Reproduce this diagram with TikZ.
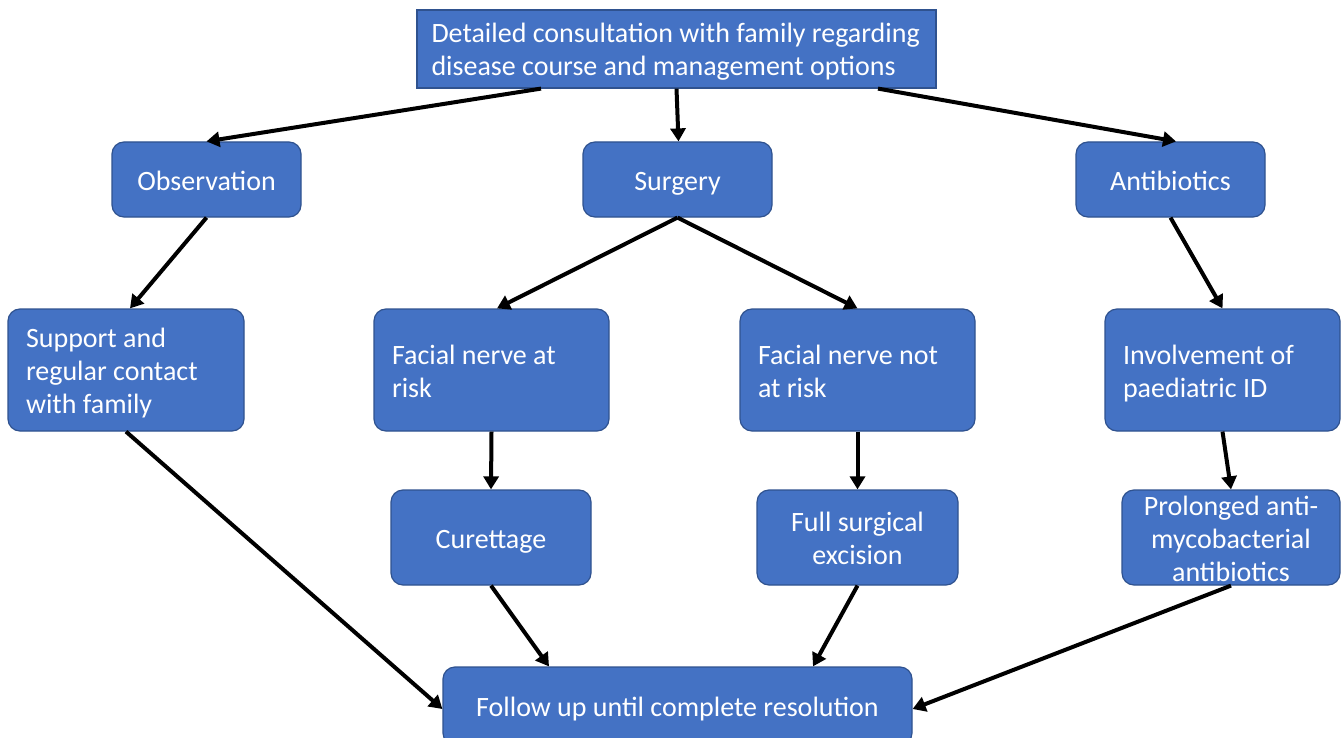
\documentclass[tikz,border=0pt]{standalone}
\usepackage{fontspec}
\setmainfont{Carlito}
\usetikzlibrary{arrows.meta}
\definecolor{boxfill}{HTML}{4472C4}
\definecolor{boxline}{HTML}{2F528F}
\tikzset{
	stepbox/.style={draw=boxline, line width=1.2pt, fill=boxfill, text=white, rounded corners=12pt,
		inner sep=0pt, text height=24pt, text depth=3pt, font=\fontsize{28}{33}\selectfont},
	twoline/.style={text depth=36pt},   % one extra line of 33pt
	threeline/.style={text depth=69pt},
	arr/.style={line width=4pt, -{Triangle[length=13pt,width=15pt]}}
}
\begin{document}
\begin{tikzpicture}[x=1pt, y=-1pt]
	\useasboundingbox (0,0) rectangle (1343,738);
	% top level
	\node[stepbox, twoline, rounded corners=0pt, minimum width=519pt, minimum height=78pt, text width=490pt, align=flush left] (consult) at (676.5,49)
		{Detailed consultation with family regarding\\disease course and management options};
	\node[stepbox, minimum width=189pt, minimum height=75pt] (observ) at (206.5,179.5) {Observation};
	\node[stepbox, minimum width=189pt, minimum height=75pt] (surgery) at (677.5,179.5) {Surgery};
	\node[stepbox, minimum width=189pt, minimum height=75pt] (antibio) at (1170.5,179.5) {Antibiotics};
	% second level
	\node[stepbox, threeline, minimum width=236pt, minimum height=122pt, text width=200pt, align=flush left] (support) at (126,370)
		{Support and\\regular contact\\with family};
	\node[stepbox, twoline, minimum width=235pt, minimum height=122pt, text width=199pt, align=flush left] (atrisk) at (491.5,370)
		{Facial nerve at\\risk};
	\node[stepbox, twoline, minimum width=235pt, minimum height=122pt, text width=199pt, align=flush left] (notrisk) at (857.5,370)
		{Facial nerve not\\at risk};
	\node[stepbox, twoline, minimum width=235pt, minimum height=122pt, text width=199pt, align=flush left] (paedid) at (1222.5,370)
		{Involvement of\\paediatric ID};
	% third level
	\node[stepbox, minimum width=200pt, minimum height=95pt] (curett) at (491,537.5) {Curettage};
	\node[stepbox, twoline, minimum width=201pt, minimum height=95pt, text width=201pt, align=flush center] (excis) at (857.5,537.5)
		{Full surgical\\excision};
	\node[stepbox, threeline, minimum width=218pt, minimum height=95pt, text width=218pt, align=flush center] (prolong) at (1231,537.5)
		{Prolonged anti-\\mycobacterial\\antibiotics};
	\node[stepbox, minimum width=469pt, minimum height=78pt] (follow) at (677.5,706)
		{Follow up until complete resolution};
	
	\draw[arr] ([xshift=-135.5pt]consult.south) -- (observ.north);
	\draw[arr] (consult.south) -- ([xshift=1pt]surgery.north);
	\draw[arr] ([xshift=201.5pt]consult.south) -- ([xshift=5.5pt]antibio.north);
	
	\draw[arr] (observ.south) -- ([xshift=4pt]support.north);
	\draw[arr] (surgery.south) -- ([xshift=5.5pt]atrisk.north);
	\draw[arr] (surgery.south) -- (notrisk.north);
	\draw[arr] (antibio.south) -- (paedid.north);
	
	\draw[arr] (atrisk.south) -- (curett.north);
	\draw[arr] (notrisk.south) -- (excis.north);
	\draw[arr] (paedid.south) -- (prolong.north);
	
	\draw[arr] (support.south) -- ([yshift=-3pt]follow.west);
	\draw[arr] (curett.south) -- ([xshift=-128.5pt]follow.north);
	\draw[arr] (excis.south) -- ([xshift=135.5pt]follow.north);
	\draw[arr] (prolong.south) -- ([yshift=-3pt]follow.east);
\end{tikzpicture}
\end{document}
